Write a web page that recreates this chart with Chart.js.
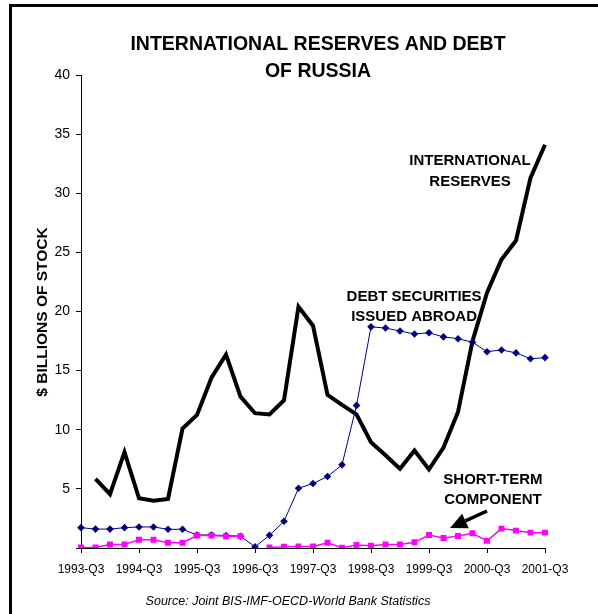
<!DOCTYPE html>
<html>
<head>
<meta charset="utf-8">
<script src="https://cdn.jsdelivr.net/npm/chart.js@4/dist/chart.umd.min.js"></script>
<style>
  html, body { margin: 0; padding: 0; background: #fff; }
  canvas { display: block; }
</style>
</head>
<body>
<canvas id="reserves-chart" width="598" height="614"></canvas>
<script>
// Quarterly stock figures, $ billions
const quarters = [
    '1993-Q3', '1993-Q4', '1994-Q1', '1994-Q2', '1994-Q3', '1994-Q4', '1995-Q1', '1995-Q2',
    '1995-Q3', '1995-Q4', '1996-Q1', '1996-Q2', '1996-Q3', '1996-Q4', '1997-Q1', '1997-Q2',
    '1997-Q3', '1997-Q4', '1998-Q1', '1998-Q2', '1998-Q3', '1998-Q4', '1999-Q1', '1999-Q2',
    '1999-Q3', '1999-Q4', '2000-Q1', '2000-Q2', '2000-Q3', '2000-Q4', '2001-Q1', '2001-Q2',
    '2001-Q3'
];

const reserves = [
    null, 5.85, 4.55, 8.1, 4.2, 4.0, 4.15, 10.1,
    11.25, 14.4, 16.35, 12.8, 11.4, 11.3, 12.5, 20.4,
    18.8, 12.95, 12.1, 11.3, 8.95, 7.85, 6.7, 8.25,
    6.65, 8.5, 11.5, 17.5, 21.6, 24.4, 26.0, 31.3,
    34.1
];

const debtSecurities = [
    1.72, 1.6, 1.6, 1.72, 1.78, 1.78, 1.58, 1.58,
    1.1, 1.1, 1.05, 1.0, 0.1, 1.07, 2.26, 5.05,
    5.45, 6.05, 7.03, 12.06, 18.7, 18.6, 18.35, 18.1,
    18.2, 17.85, 17.7, 17.4, 16.6, 16.75, 16.5, 16.0,
    16.1
];

const shortTerm = [
    0.05, 0.05, 0.3, 0.3, 0.7, 0.7, 0.45, 0.45,
    1.05, 1.05, 1.0, 1.0, null, 0.05, 0.1, 0.12,
    0.12, 0.45, 0.03, 0.25, 0.2, 0.3, 0.3, 0.48,
    1.1, 0.85, 1.02, 1.24, 0.6, 1.64, 1.47, 1.3,
    1.3
];

const yTicks = [0, 5, 10, 15, 20, 25, 30, 35, 40];

const FONT = 'Liberation Sans, Arial, Helvetica, sans-serif';

// Series captions: [lines, category position, value of each line]
const seriesNotes = [
    { lines: ['INTERNATIONAL', 'RESERVES'], x: 26.83, y: [32.7, 30.95] },
    { lines: ['DEBT SECURITIES', 'ISSUED ABROAD'], x: 22.97, y: [21.27, 19.53] },
    { lines: ['SHORT-TERM', 'COMPONENT'], x: 28.41, y: [5.75, 4.06] }
];

// arrow pointing at the short-term series (tail -> tip, in category / value units)
const shortTermArrow = { from: [28.0, 3.13], to: [25.45, 1.69] };

const decorPlugin = {
    id: 'decor',
    afterDraw(chart) {
        const ctx = chart.ctx;
        const xs = chart.scales.x;
        const ys = chart.scales.y;
        ctx.save();

        // frame round the whole figure
        ctx.fillStyle = '#000';
        ctx.fillRect(9, 4, 600, 3);
        ctx.fillRect(9, 4, 3, 620);

        ctx.textAlign = 'center';
        ctx.textBaseline = 'middle';

        // title
        ctx.font = 'bold 19.5px ' + FONT;
        ctx.fillText('INTERNATIONAL RESERVES AND DEBT', 318, 45);
        ctx.fillText('OF RUSSIA', 318, 71.5);

        // y axis title
        ctx.save();
        ctx.translate(42.5, 312);
        ctx.rotate(-Math.PI / 2);
        ctx.font = 'bold 15.5px ' + FONT;
        ctx.fillText('$ BILLIONS OF STOCK', 0, 0);
        ctx.restore();

        // series captions
        ctx.font = 'bold 15px ' + FONT;
        seriesNotes.forEach(note => {
            const px = xs.getPixelForValue(note.x);
            note.lines.forEach((line, i) => {
                ctx.fillText(line, px, ys.getPixelForValue(note.y[i]));
            });
        });

        // arrow
        const x0 = xs.getPixelForValue(shortTermArrow.from[0]);
        const y0 = ys.getPixelForValue(shortTermArrow.from[1]);
        const x1 = xs.getPixelForValue(shortTermArrow.to[0]);
        const y1 = ys.getPixelForValue(shortTermArrow.to[1]);
        const ang = Math.atan2(y1 - y0, x1 - x0);
        const headLen = 17, headHalf = 8;
        const bx = x1 - Math.cos(ang) * headLen;
        const by = y1 - Math.sin(ang) * headLen;
        ctx.strokeStyle = '#000';
        ctx.lineWidth = 3.5;
        ctx.beginPath();
        ctx.moveTo(x0, y0);
        ctx.lineTo(bx, by);
        ctx.stroke();
        ctx.beginPath();
        ctx.moveTo(x1, y1);
        ctx.lineTo(bx + Math.sin(ang) * headHalf, by - Math.cos(ang) * headHalf);
        ctx.lineTo(bx - Math.sin(ang) * headHalf, by + Math.cos(ang) * headHalf);
        ctx.closePath();
        ctx.fill();

        // source line
        ctx.font = 'italic 12.5px ' + FONT;
        ctx.fillText('Source: Joint BIS-IMF-OECD-World Bank Statistics', 288, 601.5);

        ctx.restore();
    }
};

const ctx = document.getElementById('reserves-chart').getContext('2d');

new Chart(ctx, {
    type: 'line',
    data: {
        labels: quarters,
        datasets: [
            {
                label: 'Short-term component',
                data: shortTerm,
                borderColor: '#ff00ff',
                backgroundColor: '#ff00ff',
                borderWidth: 1.5,
                pointStyle: 'rect',
                pointRadius: 4.2,
                pointBorderWidth: 0,
                spanGaps: false,
                tension: 0,
                order: 1
            },
            {
                label: 'Debt securities issued abroad',
                data: debtSecurities,
                borderColor: '#000080',
                backgroundColor: '#000080',
                borderWidth: 1,
                pointStyle: 'rectRot',
                pointRadius: 3.8,
                pointBorderWidth: 0,
                tension: 0,
                order: 2
            },
            {
                label: 'International reserves',
                data: reserves,
                borderColor: '#000',
                borderWidth: 4,
                pointRadius: 0,
                borderJoinStyle: 'miter',
                tension: 0,
                order: 3
            }
        ]
    },
    options: {
        responsive: false,
        animation: false,
        events: [],
        layout: {
            padding: { top: 75, right: 53, bottom: 0, left: 0 }
        },
        plugins: {
            legend: { display: false },
            title: { display: false },
            tooltip: { enabled: false }
        },
        scales: {
            x: {
                type: 'category',
                offset: false,
                afterFit: scale => { scale.height = 66; },
                border: { display: true, color: '#000', width: 1 },
                grid: {
                    display: true,
                    drawOnChartArea: false,
                    drawTicks: true,
                    tickLength: 5,
                    tickColor: c => (c.index % 4 === 0 ? '#000' : 'rgba(0,0,0,0)')
                },
                ticks: {
                    autoSkip: false,
                    maxRotation: 0,
                    minRotation: 0,
                    padding: 9,
                    color: '#000',
                    font: { family: FONT, size: 12 },
                    callback: (val, i) => (i % 4 === 0 ? quarters[i] : '')
                }
            },
            y: {
                min: yTicks[0],
                max: yTicks[yTicks.length - 1],
                afterFit: scale => { scale.width = 81; },
                afterBuildTicks: scale => { scale.ticks = yTicks.map(v => ({ value: v })); },
                border: { display: true, color: '#000', width: 1 },
                grid: {
                    display: true,
                    drawOnChartArea: false,
                    drawTicks: true,
                    tickLength: 5,
                    tickColor: '#000'
                },
                ticks: {
                    padding: 6,
                    color: '#000',
                    font: { family: FONT, size: 14 },
                    callback: v => (v === 0 ? '' : String(v))
                }
            }
        }
    },
    plugins: [decorPlugin]
});
</script>
</body>
</html>
